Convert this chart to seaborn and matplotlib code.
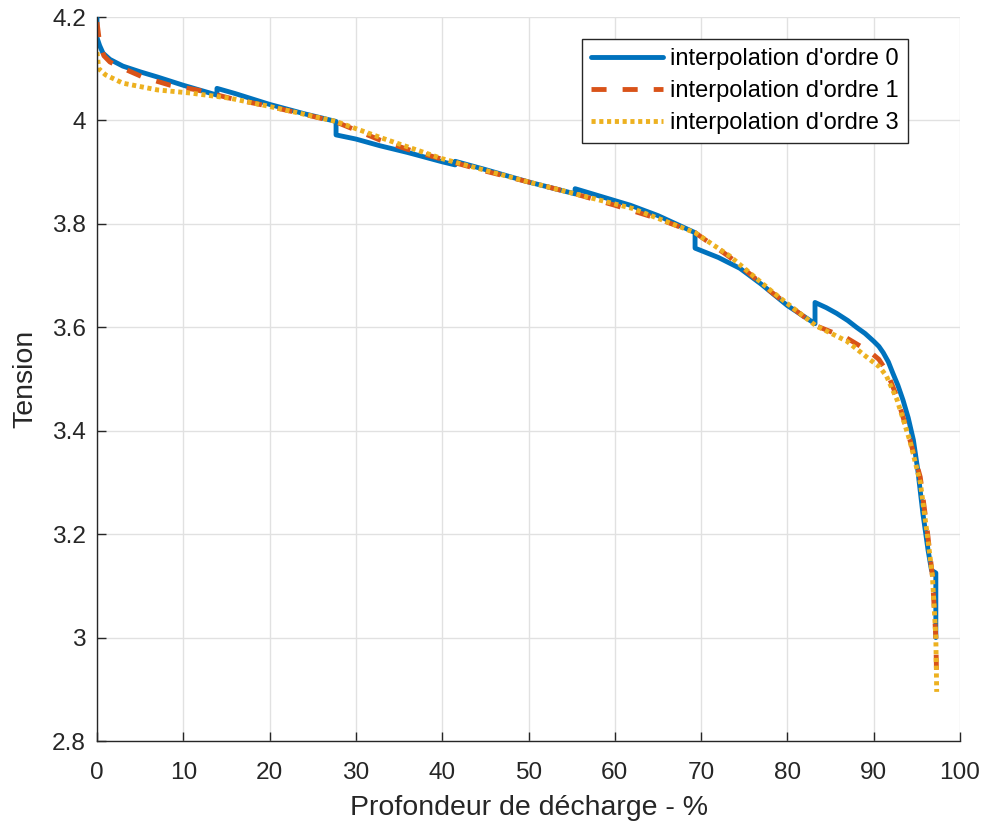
import matplotlib
matplotlib.use("Agg")
import matplotlib.pyplot as plt
import seaborn as sns
import numpy as np
import pandas as pd

# ---- data ----
x_order0 = [0, 0, 0.3, 0.7, 1.5, 3, 5, 7, 10, 13.9, 13.9, 16, 20, 24, 27.7, 27.7, 30, 32.8, 36, 40,
            41.5, 41.5, 45, 50, 55.4, 55.4, 58, 61.8, 65, 69.3, 69.3, 72, 74.5, 77, 80, 83.2, 83.2,
            84.5, 85.7, 87, 88, 89, 90, 90.6, 91.1, 91.7, 92.2, 92.8, 93.4, 94.0, 94.6, 95.1, 95.7,
            96.3, 96.7, 97.2, 97.2]
y_order0 = [4.21, 4.16, 4.145, 4.13, 4.118, 4.105, 4.094, 4.084, 4.068, 4.049, 4.062, 4.052, 4.031, 4.013,
            3.998, 3.972, 3.964, 3.951, 3.938, 3.92, 3.914, 3.921, 3.905, 3.881, 3.858, 3.868, 3.855,
            3.836, 3.816, 3.783, 3.753, 3.735, 3.714, 3.683, 3.642, 3.607, 3.648, 3.638, 3.627, 3.613,
            3.60, 3.588, 3.573, 3.563, 3.551, 3.533, 3.512, 3.488, 3.459, 3.425, 3.382, 3.325, 3.24,
            3.169, 3.13, 3.125, 3.0]

x_order1 = [0, 0.3, 0.8, 1.5, 2.7, 5.3, 8.5, 11.6, 15.4, 20, 24, 27.7, 32.8, 36, 40, 45, 50, 55.4,
            60, 65, 69.3, 73.3, 78.3, 83.3, 86.9, 89.6, 90.6, 91.5, 92.7, 94.2, 95.4, 96.2, 96.8, 97.2, 97.3]
y_order1 = [4.19, 4.15, 4.125, 4.113, 4.103, 4.084, 4.068, 4.059, 4.043, 4.027, 4.012, 3.997, 3.962,
            3.944, 3.925, 3.902, 3.881, 3.858, 3.836, 3.81, 3.783, 3.736, 3.666, 3.603, 3.579, 3.552,
            3.538, 3.515, 3.465, 3.382, 3.31, 3.208, 3.12, 3.0, 2.912]

x_order3 = [0, 0.2, 1, 3, 7, 10.8, 15.4, 20, 27.7, 33, 40, 50, 55.4, 62, 69.3, 73.3, 78.3, 83.3,
            86.9, 89.6, 90.7, 91.5, 92.7, 94.2, 95.4, 96.2, 96.8, 97.2, 97.3]
y_order3 = [4.132, 4.10, 4.088, 4.072, 4.059, 4.053, 4.043, 4.027, 3.998, 3.966, 3.926, 3.881, 3.858,
            3.83, 3.783, 3.738, 3.668, 3.603, 3.573, 3.537, 3.523, 3.505, 3.46, 3.38, 3.3, 3.2, 3.12,
            3.0, 2.895]

labels = ["interpolation d'ordre 0", "interpolation d'ordre 1", "interpolation d'ordre 3"]
x_ticks = [0, 10, 20, 30, 40, 50, 60, 70, 80, 90, 100]
y_ticks = [2.8, 3.0, 3.2, 3.4, 3.6, 3.8, 4.0, 4.2]
y_ticklabels = ["2.8", "3", "3.2", "3.4", "3.6", "3.8", "4", "4.2"]

# ---- style ----
sns.set_theme(style="white")
plt.rcParams["font.family"] = ["Liberation Sans", "DejaVu Sans"]
dark = "#262626"

fig = plt.figure(figsize=(9.85, 8.23), dpi=100)
ax = fig.add_axes([97 / 985, 1 - 741 / 823, (960 - 97) / 985, (741 - 17) / 823])

lw = 3.5
sns.lineplot(x=x_order0, y=y_order0, sort=False, estimator=None, ax=ax,
             color="#0072BD", lw=lw, label=labels[0], solid_joinstyle="round")
sns.lineplot(x=x_order1, y=y_order1, sort=False, estimator=None, ax=ax,
             color="#D95319", lw=lw, linestyle=(0, (3.1, 3.3)), label=labels[1])
sns.lineplot(x=x_order3, y=y_order3, sort=False, estimator=None, ax=ax,
             color="#EDB120", lw=lw, linestyle=(0, (0.85, 0.75)), label=labels[2])

ax.set_xlim(0, 100)
ax.set_ylim(2.8, 4.2)
ax.set_xticks(x_ticks)
ax.set_xticklabels([str(t) for t in x_ticks])
ax.set_yticks(y_ticks)
ax.set_yticklabels(y_ticklabels)

ax.grid(True, color="#e1e1e1", lw=1.0)
ax.set_axisbelow(True)
for side in ["top", "right"]:
    ax.spines[side].set_visible(False)
for side in ["left", "bottom"]:
    ax.spines[side].set_color(dark)
    ax.spines[side].set_linewidth(1.0)

ax.tick_params(axis="both", direction="in", length=6.5, width=1.0, color=dark,
               labelsize=17.6, labelcolor=dark, left=True, bottom=True)
ax.tick_params(axis="x", pad=15)
ax.tick_params(axis="y", pad=8)

ax.set_xlabel("Profondeur de décharge - %", fontsize=20.5, color=dark, labelpad=8)
ax.set_ylabel("Tension", fontsize=20.5, color=dark, labelpad=10)

leg = ax.legend(loc="upper right", bbox_to_anchor=((908 - 97) / 863, 1 - (39 - 17) / 724),
                fontsize=17, frameon=True, fancybox=False, shadow=False, framealpha=1,
                edgecolor=dark, handlelength=3.05, handletextpad=0.3, borderpad=0.38,
                labelspacing=0.42, borderaxespad=0)
leg.get_frame().set_linewidth(1.0)
for t in leg.get_texts():
    t.set_color("#000000")

fig.savefig("out.png", dpi=100, facecolor="white")
